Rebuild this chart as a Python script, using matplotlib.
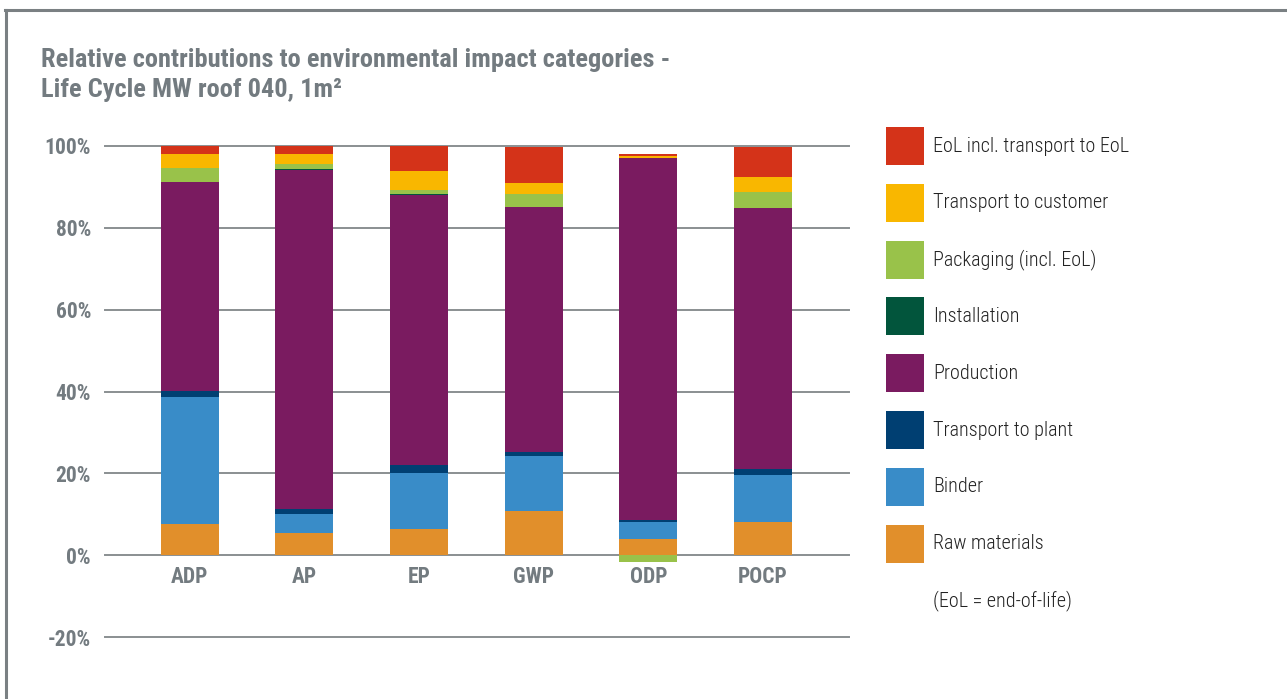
import matplotlib
matplotlib.use("Agg")
import matplotlib.pyplot as plt
import numpy as np
from matplotlib import font_manager as fm
from matplotlib.patches import Rectangle
from matplotlib.lines import Line2D

# pick a condensed face if one is around
names = {f.name for f in fm.fontManager.ttflist}
FONT = next((n for n in ["Roboto Condensed", "Archivo Narrow", "PT Sans Narrow"] if n in names), "DejaVu Sans")
plt.rcParams['font.family'] = [FONT, 'DejaVu Sans']

categories = ["ADP", "AP", "EP", "GWP", "ODP", "POCP"]

# contributions in %, bottom to top
raw_materials      = [7.6, 5.4, 6.4, 10.8, 3.9, 8.1]
binder             = [31.1, 4.6, 13.7, 13.4, 4.2, 11.5]
transport_to_plant = [1.4, 1.2, 1.9, 1.0, 0.5, 1.4]
production         = [51.1, 83.0, 66.1, 59.8, 88.5, 63.8]
installation       = [0.0, 0.3, 0.2, 0.2, 0.0, 0.0]
packaging          = [3.4, 1.2, 0.9, 3.1, -1.7, 4.0]
transport_customer = [3.4, 2.3, 4.7, 2.6, 0.5, 3.6]
eol                = [2.0, 2.0, 6.1, 8.9, 0.5, 7.4]

series = [
    ("Raw materials", raw_materials, "#e18f2b"),
    ("Binder", binder, "#398cc8"),
    ("Transport to plant", transport_to_plant, "#003f72"),
    ("Production", production, "#7a1b60"),
    ("Installation", installation, "#02553c"),
    ("Packaging (incl. EoL)", packaging, "#99c24a"),
    ("Transport to customer", transport_customer, "#f9b700"),
    ("EoL incl. transport to EoL", eol, "#d43319"),
]

GRAY = "#737b80"
W, H = 1287, 699

fig = plt.figure(figsize=(W / 100, H / 100), dpi=100)
ax = fig.add_axes([105 / W, 1 - 637 / H, (849 - 105) / W, (637 - 146) / H])

x = np.arange(len(categories))
pos_base = np.zeros(len(categories))
neg_base = np.zeros(len(categories))
for name, vals, color in series:
    vals = np.array(vals)
    bottom = np.where(vals >= 0, pos_base, neg_base)
    ax.bar(x, vals, 0.506, bottom=bottom, color=color, linewidth=0, zorder=3)
    pos_base += np.where(vals >= 0, vals, 0)
    neg_base += np.where(vals < 0, vals, 0)

ax.set_xlim(-0.74, 5.75)
ax.set_ylim(-20, 100)
yt = [-20, 0, 20, 40, 60, 80, 100]
ax.set_yticks(yt)
ax.set_yticklabels([f"{v}%" for v in yt])
for v in yt:
    ax.axhline(v, color="#8a8f92", lw=1.4, zorder=2, clip_on=False)
ax.set_xticks([])
for s in ax.spines.values():
    s.set_visible(False)
ax.tick_params(length=0)
ax.tick_params(axis="y", pad=10)
for lab in ax.get_yticklabels():
    lab.set_fontsize(15.5)
    lab.set_fontweight("bold")
    lab.set_color(GRAY)

# category names sit just under the 0% line
for i, cat in enumerate(categories):
    ax.annotate(cat, (i, 0), xytext=(0, -16), textcoords="offset points",
                ha="center", va="center", fontsize=15.5, fontweight="bold", color=GRAY)

# title
fig.text(41 / W, 1 - 67 / H, "Relative contributions to environmental impact categories -",
         fontsize=19, fontweight="bold", color=GRAY, va="baseline")
fig.text(41 / W, 1 - 97 / H, "Life Cycle MW roof 040, 1m\u00b2",
         fontsize=19, fontweight="bold", color=GRAY, va="baseline")

# legend (top entry first)
for i, (name, vals, color) in enumerate(series[::-1]):
    yc = 146 + i * 56.8
    fig.add_artist(Rectangle((886 / W, 1 - (yc + 19) / H), 38 / W, 38 / H,
                             transform=fig.transFigure, color=color, lw=0))
    fig.text(933 / W, 1 - yc / H, name, fontsize=14.5, fontweight=300,
             color="#222222", va="center")
fig.text(933 / W, 1 - (146 + 8 * 56.8) / H, "(EoL = end-of-life)",
         fontsize=14.5, fontweight=300, color="#222222", va="center")

# frame
fig.add_artist(Line2D([5.5 / W, 5.5 / W], [0, 1 - 9.5 / H], transform=fig.transFigure,
                      color="#7a8083", lw=2.2))
fig.add_artist(Line2D([4.5 / W, 1], [1 - 9.5 / H, 1 - 9.5 / H], transform=fig.transFigure,
                      color="#7a8083", lw=2.2))

fig.savefig("out.png", dpi=100)
